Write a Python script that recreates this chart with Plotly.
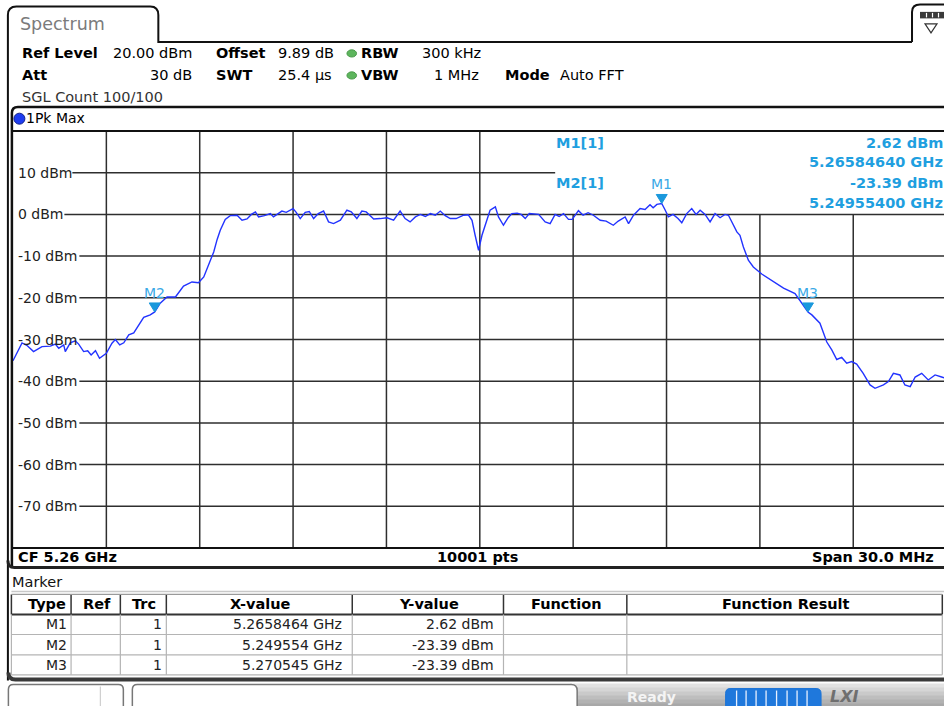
import plotly.graph_objects as go

FONT = "DejaVu Sans"
W, H = 944, 706
L, R, T, B = 12.6, 0, 131.0, 158.4
PW = W - L - R
PH = H - T - B
DIV_PX = 93.4  # width of one of the 10 frequency divisions

# ---------------- data ----------------
START_GHZ = 5.245
SPAN_GHZ = 0.030
REF_LEVEL_DBM = 20
BOTTOM_LEVEL_DBM = -80

freq_offset_mhz = [
    0.00, 0.14, 0.29, 0.46, 0.66, 0.93, 1.20, 1.36, 1.47, 1.63,
    1.68, 1.84, 2.00, 2.11, 2.27, 2.40, 2.51, 2.65, 2.78, 3.00,
    3.18, 3.29, 3.43, 3.56, 3.72, 3.88, 4.04, 4.20, 4.41, 4.554,
    4.73, 4.95, 5.22, 5.48, 5.75, 5.96, 6.13, 6.24, 6.34, 6.45,
    6.56, 6.66, 6.82, 6.98, 7.20, 7.36, 7.52, 7.66, 7.79, 7.89,
    8.08, 8.27, 8.37, 8.49, 8.64, 8.78, 9.00, 9.10, 9.23, 9.39,
    9.52, 9.66, 9.81, 9.98, 10.14, 10.30, 10.52, 10.73, 10.87, 11.05,
    11.21, 11.35, 11.59, 11.80, 12.02, 12.23, 12.44, 12.60, 12.76, 12.93,
    13.09, 13.25, 13.41, 13.57, 13.73, 13.89, 14.05, 14.24, 14.48, 14.63,
    14.75, 14.85, 14.96, 15.07, 15.23, 15.33, 15.50, 15.60, 15.76, 15.91,
    16.03, 16.20, 16.33, 16.46, 16.59, 16.89, 17.10, 17.26, 17.42, 17.55,
    17.69, 17.85, 17.97, 18.17, 18.32, 18.48, 18.65, 18.87, 19.06, 19.29,
    19.45, 19.67, 19.78, 19.94, 20.15, 20.31, 20.47, 20.57, 20.69, 20.846,
    20.96, 21.06, 21.21, 21.37, 21.49, 21.65, 21.81, 21.95, 22.08, 22.24,
    22.40, 22.56, 22.72, 22.88, 22.99, 23.15, 23.26, 23.36, 23.47, 23.63,
    23.79, 24.06, 24.43, 24.76, 25.13, 25.29, 25.545, 25.67, 25.93, 26.15,
    26.31, 26.47, 26.63, 26.79, 26.95, 27.11, 27.32, 27.54, 27.70, 27.97,
    28.13, 28.29, 28.50, 28.66, 28.83, 28.99, 29.20, 29.41, 29.63, 29.84,
    30.00,
]
level_dbm = [
    -35.1, -33.0, -30.8, -31.5, -32.9, -31.7, -31.6, -31.1, -32.1, -31.3,
    -32.9, -30.8, -30.3, -31.1, -32.9, -32.7, -33.7, -32.7, -34.5, -33.3,
    -30.9, -30.0, -31.3, -30.8, -28.9, -28.4, -26.5, -24.7, -24.1, -23.39,
    -21.3, -19.8, -19.8, -17.2, -16.2, -16.4, -15.0, -13.0, -11.0, -9.0,
    -6.0, -3.8, -1.2, -0.3, -0.2, -1.4, -1.1, 0.0, 0.6, -0.6,
    -0.3, 0.2, -0.6, 0.0, 0.8, 0.5, 1.4, 0.5, -1.0, 0.5,
    0.7, -1.0, 0.2, 0.8, -1.8, -2.2, -1.4, 1.0, 0.6, -1.0,
    0.8, 0.6, -1.1, -1.0, -0.8, -1.4, 0.8, -1.0, -1.8, -0.6,
    0.0, -0.5, 0.2, -0.2, 0.8, -0.3, -1.0, -1.0, -0.2, -0.1,
    -1.4, -5.0, -8.6, -5.0, -1.0, 1.0, 1.8, -0.6, -2.6, -0.8,
    0.2, 0.3, 0.0, -1.0, 0.2, 0.0, -1.8, -2.2, 0.0, -0.5,
    0.2, -1.2, -1.2, 0.9, -0.2, 0.4, -0.2, -1.4, -1.6, -2.6,
    -1.6, -0.6, -2.2, -0.2, 1.4, 1.2, 2.3, 1.6, 2.4, 2.62,
    1.0, -0.6, 0.0, -1.0, -2.0, 0.2, 1.4, 0.0, 1.0, 0.0,
    -1.8, 0.2, -0.8, 0.0, -0.2, -2.6, -4.2, -5.0, -7.8, -11.0,
    -12.6, -14.3, -16.2, -17.7, -19.0, -20.6, -23.39, -24.1, -26.1, -30.6,
    -32.5, -34.8, -34.3, -35.7, -35.3, -35.9, -38.1, -40.9, -41.7, -40.9,
    -40.1, -38.1, -38.5, -40.9, -41.3, -39.0, -38.1, -39.7, -38.5, -39.0,
    -39.4,
]
assert len(freq_offset_mhz) == len(level_dbm)

grid_freq_ghz = [5.248, 5.251, 5.254, 5.257, 5.260, 5.263, 5.266, 5.269, 5.272]
level_ticks = [10, 0, -10, -20, -30, -40, -50, -60, -70]
level_tick_labels = ["10 dBm", "0 dBm", "-10 dBm", "-20 dBm", "-30 dBm",
                     "-40 dBm", "-50 dBm", "-60 dBm", "-70 dBm"]

marker_names = ["M1", "M2", "M3"]
marker_freq_ghz = [5.2658464, 5.249554, 5.270545]
marker_level_dbm = [2.62, -23.39, -23.39]
marker_trace = [1, 1, 1]

table_headers = ["Type", "Ref", "Trc", "X-value", "Y-value", "Function", "Function Result"]

header_row1 = [("Ref Level", True), ("20.00 dBm", False), ("Offset", True), ("9.89 dB", False),
               ("RBW", True), ("300 kHz", False)]
header_row2 = [("Att", True), ("30 dB", False), ("SWT", True), ("25.4 µs", False),
               ("VBW", True), ("1 MHz", False), ("Mode", True), ("Auto FFT", False)]
sweep_text = "SGL Count 100/100"
trace_label = "1Pk Max"
footer_cf = "CF 5.26 GHz"
footer_pts = "10001 pts"
footer_span = "Span 30.0 MHz"

freq_ghz = [START_GHZ + f / 1000.0 for f in freq_offset_mhz]

# ---------------- helpers (pixel -> paper) ----------------
def px(x):
    return (x - L) / PW


def py(y):
    return (H - B - y) / PH


shapes = []
annotations = []


def line(x0, y0, x1, y1, color="#000", width=1.5):
    shapes.append(dict(type="line", xref="paper", yref="paper",
                       x0=px(x0), y0=py(y0), x1=px(x1), y1=py(y1),
                       line=dict(color=color, width=width), layer="above"))


def rect(x0, y0, x1, y1, fill, lc=None, lw=0, layer="below"):
    shapes.append(dict(type="rect", xref="paper", yref="paper",
                       x0=px(x0), y0=py(y0), x1=px(x1), y1=py(y1),
                       fillcolor=fill,
                       line=dict(color=lc or fill, width=lw), layer=layer))


def path(cmds, color="#000", width=1.5, fill=None, layer="above"):
    parts = []
    for c, pts in cmds:
        if c == "Z":
            parts.append("Z")
            continue
        coords = []
        for i in range(0, len(pts), 2):
            coords.append(f"{px(pts[i]):.6f},{py(pts[i+1]):.6f}")
        parts.append(c + " " + " ".join(coords))
    d = dict(type="path", xref="paper", yref="paper", path=" ".join(parts),
             line=dict(color=color, width=width), layer=layer)
    if fill:
        d["fillcolor"] = fill
    shapes.append(d)


def txt(s, x, y, anchor="left", size=14.5, color="#000", bold=False, italic=False):
    t = s
    if bold:
        t = f"<b>{t}</b>"
    if italic:
        t = f"<i>{t}</i>"
    annotations.append(dict(text=t, x=px(x), y=py(y), xref="paper", yref="paper",
                            xanchor=anchor, yanchor="middle", showarrow=False,
                            borderpad=0, borderwidth=0,
                            font=dict(family=FONT, size=size, color=color)))


def ellipse(cx, cy, rx, ry, fill, lc=None):
    shapes.append(dict(type="circle", xref="paper", yref="paper",
                       x0=px(cx - rx), x1=px(cx + rx), y0=py(cy + ry), y1=py(cy - ry),
                       fillcolor=fill, line=dict(color=lc or fill, width=1), layer="above"))


# ---------------- header ----------------
path([("M", [7.5, 680]), ("L", [7.5, 15]), ("Q", [7.5, 6.5, 16, 6.5]),
      ("L", [150, 6.5]), ("Q", [158, 6.5, 158, 15]), ("L", [158, 42]),
      ("L", [912, 42])], color="#111", width=2)
txt("Spectrum", 20, 24, size=17.5, color="#7b7b7b")
path([("M", [912, 42]), ("L", [912, 12]), ("Q", [912, 4.5, 920, 4.5]), ("L", [946, 4.5])],
     color="#111", width=2)
rect(920, 12, 944, 18.5, "#3a3a3a", layer="above")
for xx in (926.5, 932.5, 938.5):
    line(xx, 13, xx, 17.5, color="#ffffff", width=1.2)
path([("M", [925, 24]), ("L", [937, 24]), ("L", [931, 33]), ("Z", [])], color="#333", width=1.2)

row1_x = [(22, "left"), (192, "right"), (216, "left"), (278, "left"), (361, "left"), (481, "right")]
for (s, b), (x, a) in zip(header_row1, row1_x):
    txt(s, x, 53.3, anchor=a, bold=b)
row2_x = [(22, "left"), (192, "right"), (216, "left"), (278, "left"), (361, "left"),
          (479, "right"), (505, "left"), (560, "left")]
for (s, b), (x, a) in zip(header_row2, row2_x):
    txt(s, x, 75, anchor=a, bold=b)
txt(sweep_text, 22, 96.7, color="#333")
ellipse(351.5, 53.5, 4.8, 3.6, "#5db55d", "#4a9a4a")
ellipse(351.5, 75.5, 4.8, 3.6, "#5db55d", "#4a9a4a")

path([("M", [11.5, 567]), ("L", [11.5, 113]), ("Q", [11.5, 107, 17.5, 107]), ("L", [946, 107])],
     color="#111", width=2.5)
ellipse(19, 118.7, 5.5, 5.5, "#1e3cf0", "#10208a")
txt(trace_label, 25.5, 118.5, size=14)
line(11.5, 131, 946, 131, color="#111", width=2)

# ---------------- grid ----------------
for v in grid_freq_ghz:
    top = REF_LEVEL_DBM if v < 5.2615 else 0
    shapes.append(dict(type="line", xref="x", yref="y", x0=v, x1=v,
                       y0=BOTTOM_LEVEL_DBM, y1=top,
                       line=dict(color="#2e2e2e", width=1.5), layer="below"))
for v, lab in zip(level_ticks, level_tick_labels):
    if lab.startswith("-"):
        start = 79
    elif v > 0:
        start = 72
    else:
        start = 64
    end = 555 if v > 0 else 946
    shapes.append(dict(type="line", xref="paper", yref="y", x0=px(start), x1=px(end),
                       y0=v, y1=v, line=dict(color="#2e2e2e", width=1.5), layer="below"))
    annotations.append(dict(text=lab, x=px(18), y=v, xref="paper", yref="y",
                            xanchor="left", yanchor="middle", showarrow=False,
                            borderpad=0, borderwidth=0,
                            font=dict(family=FONT, size=14, color="#222")))
line(11.5, 547.6, 946, 547.6, color="#111", width=1.8)

# ---------------- markers ----------------
for name, f, lv in zip(marker_names, marker_freq_ghz, marker_level_dbm):
    shapes.append(dict(type="path", xref="x", yref="y", xsizemode="pixel", ysizemode="pixel",
                       xanchor=f, yanchor=lv, path="M -5.5,9 L 5.5,9 L 0,0 Z",
                       fillcolor="#1a98dc", line=dict(color="#1a98dc", width=1), layer="above"))
    annotations.append(dict(text=name, x=f, y=lv, xref="x", yref="y", yshift=19,
                            xanchor="center", yanchor="middle", showarrow=False,
                            borderpad=0, borderwidth=0,
                            font=dict(family=FONT, size=14, color="#3aa9e6")))

INFO_C = "#1f9fe0"
txt(f"{marker_names[0]}[{marker_trace[0]}]", 556, 143.3, bold=True, color=INFO_C)
txt(f"{marker_level_dbm[0]:.2f} dBm", 942.5, 143.3, anchor="right", bold=True, color=INFO_C)
txt(f"{marker_freq_ghz[0]:.8f} GHz", 942.5, 162.3, anchor="right", bold=True, color=INFO_C)
txt(f"{marker_names[1]}[{marker_trace[1]}]", 556, 183.3, bold=True, color=INFO_C)
txt(f"{marker_level_dbm[1]:.2f} dBm", 942.5, 183.3, anchor="right", bold=True, color=INFO_C)
txt(f"{marker_freq_ghz[1]:.8f} GHz", 942.5, 202.7, anchor="right", bold=True, color=INFO_C)

# ---------------- footer of diagram ----------------
txt(footer_cf, 18, 556.5, bold=True)
txt(footer_pts, 477, 556.5, anchor="center", bold=True)
txt(footer_span, 934, 556.5, anchor="right", bold=True)
path([("M", [7.5, 560]), ("Q", [7.5, 567, 14, 567]), ("L", [946, 567])], color="#222", width=3)

# ---------------- marker table ----------------
txt("Marker", 12, 581.5, size=14.5, color="#111")
line(11, 591, 946, 591, color="#c8c8c8", width=1.5)
col_x = [11, 70.7, 120, 166, 352, 503.3, 626.7, 942.3]
head_cx = [46.5, 96.5, 143.3, 260, 429, 566, 786]
rect(11, 594, 942.3, 614, "#ffffff")
for xx in col_x:
    line(xx, 594, xx, 614, color="#333", width=1.5)
line(11, 594, 942.3, 594, color="#9a9a9a", width=1.2)
line(11, 614, 942.3, 614, color="#333", width=2)
for s, cx in zip(table_headers, head_cx):
    txt(s, cx, 604, anchor="center", bold=True, size=14.5)
row_y = [623.8, 644.3, 664.6]
for yy in (634, 654.3, 674.3):
    line(11, yy, 942.3, yy, color="#b4b4b4", width=1.2)
for xx in col_x:
    line(xx, 614, xx, 674.3, color="#b4b4b4", width=1.2)
for name, f, lv, tr, yy in zip(marker_names, marker_freq_ghz, marker_level_dbm, marker_trace, row_y):
    txt(name, 67, yy, anchor="right", size=14, color="#222")
    txt(str(tr), 161.5, yy, anchor="right", size=14, color="#222")
    txt(f"{f:.8g} GHz", 342, yy, anchor="right", size=14, color="#222")
    txt(f"{lv:.2f} dBm", 493.5, yy, anchor="right", size=14, color="#222")
path([("M", [8, 672]), ("Q", [8, 679, 15, 679]), ("L", [946, 679])], color="#3a3a3a", width=4)

# ---------------- status bar ----------------
grad = ["#e2e2e2", "#d6d6d6", "#cacaca", "#bebebe", "#b2b2b2", "#a8a8a8"]
for i, c in enumerate(grad):
    rect(570, 683 + i * 4, 946, 687 + i * 4 + 0.5, c)
path([("M", [8, 707]), ("L", [8, 689]), ("Q", [8, 684, 13, 684]), ("L", [118, 684]),
      ("Q", [123, 684, 123, 689]), ("L", [123, 707])], color="#777", width=1.5,
     fill="#ffffff", layer="below")
line(100, 686, 100, 706, color="#cfcfcf", width=1.2)
path([("M", [132, 707]), ("L", [132, 689]), ("Q", [132, 684, 137, 684]), ("L", [571, 684]),
      ("Q", [577, 684, 577, 690]), ("L", [577, 707])], color="#777", width=1.5,
     fill="#ffffff", layer="below")
txt("Ready", 651, 696, anchor="center", bold=True, size=14, color="#f4f4f4")
path([("M", [730, 688]), ("L", [816, 688]), ("Q", [821, 688, 821, 693]), ("L", [821, 707]),
      ("L", [725.5, 707]), ("L", [725.5, 693]), ("Q", [725.5, 688, 730, 688]), ("Z", [])],
     color="#1d74d6", width=1, fill="#1f78dc")
for xx in (736.5, 746, 756, 766, 776.5, 787, 797, 807):
    line(xx, 690, xx, 706, color="#e8f0ff", width=1.3)
txt("LXI", 844, 696, anchor="center", bold=True, italic=True, size=16, color="#6f6f6f")

# ---------------- figure ----------------
fig = go.Figure()
fig.add_trace(go.Scatter(x=freq_ghz, y=level_dbm, mode="lines",
                         line=dict(color="#2233ff", width=1.4), hoverinfo="skip",
                         showlegend=False))

x_max = START_GHZ + SPAN_GHZ * PW / (10 * DIV_PX)
fig.update_layout(
    width=W, height=H,
    margin=dict(l=L, r=R, t=T, b=B, pad=0),
    paper_bgcolor="#ffffff", plot_bgcolor="#ffffff",
    xaxis=dict(range=[START_GHZ, x_max], showgrid=False, zeroline=False,
               showticklabels=False, showline=False, ticks="", fixedrange=True),
    yaxis=dict(range=[BOTTOM_LEVEL_DBM, REF_LEVEL_DBM], showgrid=False, zeroline=False,
               showticklabels=False, showline=False, ticks="", fixedrange=True),
    shapes=shapes,
    annotations=annotations,
    showlegend=False,
    font=dict(family=FONT),
)

fig.write_html("out.html", config={"displayModeBar": False},
               post_script="document.body.style.margin='0';document.body.style.overflow='hidden';")
